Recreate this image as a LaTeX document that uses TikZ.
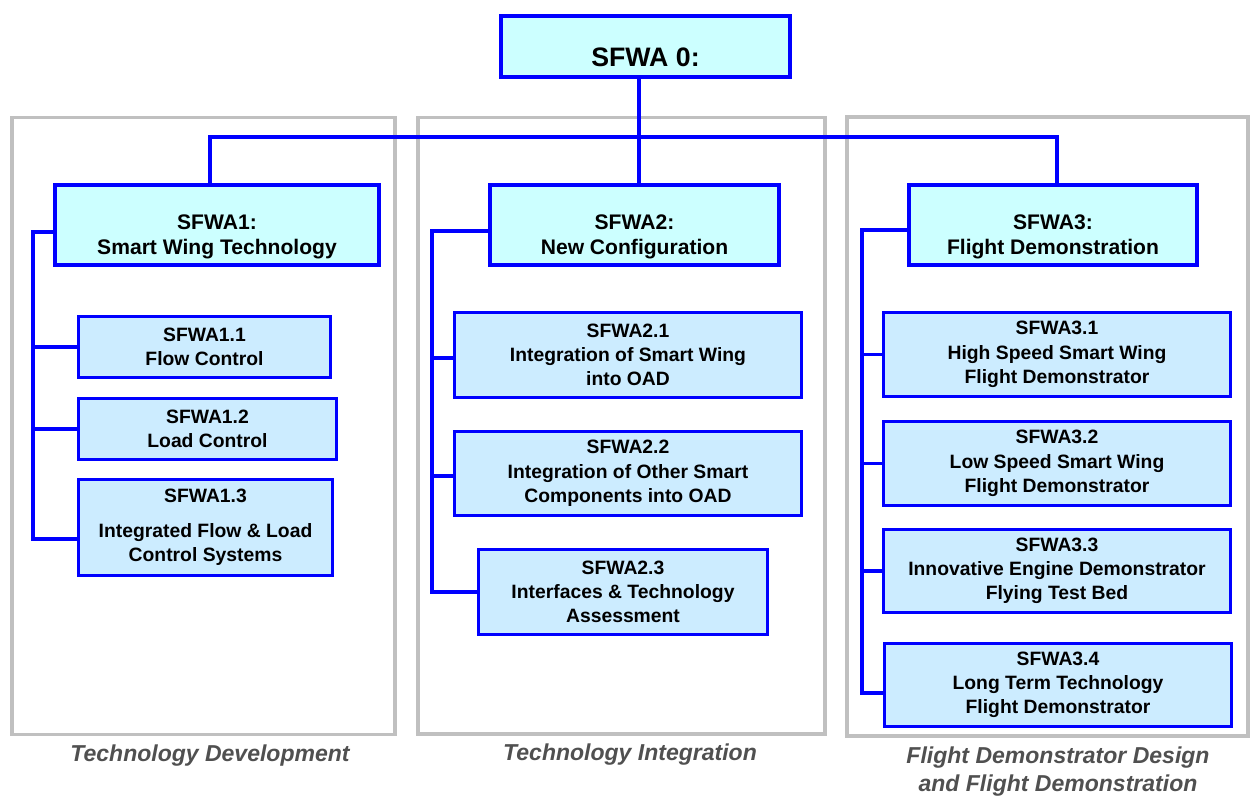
\documentclass[tikz,border=0pt]{standalone}
\usepackage{fontspec}
\setmainfont{Liberation Sans}

\definecolor{wbsblue}{HTML}{0000FF}
\definecolor{headfill}{HTML}{CCFFFF}
\definecolor{taskfill}{HTML}{CCECFF}
\definecolor{panelgray}{HTML}{C0C0C0}
\definecolor{captiongray}{HTML}{505050}

\begin{document}
\begin{tikzpicture}[x=0.02cm, y=-0.02cm,
    topbox/.style={draw=wbsblue, fill=headfill, line width=0.08cm, inner sep=0pt,
        font=\bfseries\fontsize{15.2}{18}\selectfont, text height=0.82cm, text depth=0pt},
    headbox/.style={draw=wbsblue, fill=headfill, line width=0.08cm, inner sep=0pt,
        align=center, font=\bfseries\fontsize{12}{14}\selectfont, minimum height=1.6cm},
    taskbox/.style={draw=wbsblue, fill=taskfill, line width=0.06cm, inner sep=0pt,
        align=center, font=\bfseries\fontsize{11}{13.8}\selectfont},
    wire/.style={wbsblue, line width=0.07cm},
    panel/.style={panelgray, line width=0.07cm},
    caption/.style={text=captiongray, align=center,
        font=\bfseries\itshape\fontsize{13.1}{15.9}\selectfont}]
    \useasboundingbox (0,0) rectangle (1251,797);

    % three grey work areas
    \draw[panel] (12,117.5) rectangle (395,734.5);
    \draw[panel] (418,117.5) rectangle (825,734);
    \draw[panel] (847,117) rectangle (1248,736);

    \node[caption, anchor=base] (cap1) at (210,761) {Technology Development};
    \node[caption, anchor=base] (cap2) at (630,760) {Technology Integration};
    \node[caption] (cap3) at (1058,772) {Flight Demonstrator Design\\and Flight Demonstration};

    % top level
    \node[topbox, minimum width=5.78cm, minimum height=1.22cm] (s0) at (645.5,46.5) {SFWA 0:};

    % work packages (empty first row pushes the text down a little)
    \node[headbox, minimum width=6.48cm] (s1) at (217,225) {\mbox{}\\[8pt]SFWA1:\\Smart Wing Technology};
    \node[headbox, minimum width=5.78cm] (s2) at (634.5,225) {\mbox{}\\[8pt]SFWA2:\\New Configuration};
    \node[headbox, minimum width=5.76cm] (s3) at (1053,225) {\mbox{}\\[8pt]SFWA3:\\Flight Demonstration};

    % tasks
    \node[taskbox, minimum width=5.04cm, minimum height=1.22cm] (s11) at (204.5,347) {SFWA1.1\\Flow Control};
    \node[taskbox, minimum width=5.16cm, minimum height=1.22cm] (s12) at (207.5,429) {SFWA1.2\\Load Control};
    \node[taskbox, minimum width=5.08cm, minimum height=1.92cm] (s13) at (205.5,527.5) {SFWA1.3\\[6pt]Integrated Flow \& Load\\Control Systems};

    \node[taskbox, minimum width=6.94cm, minimum height=1.70cm] (s21) at (628,355) {SFWA2.1\\Integration of Smart Wing\\into OAD};
    \node[taskbox, minimum width=6.94cm, minimum height=1.68cm] (s22) at (628,473.5) {SFWA2.2\\Integration of Other Smart\\Components into OAD};
    \node[taskbox, minimum width=5.78cm, minimum height=1.70cm] (s23) at (623,592) {SFWA2.3\\Interfaces \& Technology\\Assessment};

    \node[taskbox, minimum width=6.94cm, minimum height=1.68cm] (s31) at (1057,354.5) {SFWA3.1\\High Speed Smart Wing\\Flight Demonstrator};
    \node[taskbox, minimum width=6.94cm, minimum height=1.68cm] (s32) at (1057,463.5) {SFWA3.2\\Low Speed Smart Wing\\Flight Demonstrator};
    \node[taskbox, minimum width=6.94cm, minimum height=1.68cm] (s33) at (1057,571) {SFWA3.3\\Innovative Engine Demonstrator\\Flying Test Bed};
    \node[taskbox, minimum width=6.94cm, minimum height=1.68cm] (s34) at (1058,685) {SFWA3.4\\Long Term Technology\\Flight Demonstrator};

    % top tree
    \coordinate (hub) at (639,137);
    \coordinate (j1) at (210,137);
    \coordinate (j3) at (1057,137);
    \draw[wire] (s0.south -| hub) -- (s2.north -| hub);
    \draw[wire] (s1.north -| j1) -- (j1) -- (j3) -- (s3.north -| j3);

    % trunks down the left of each area
    \coordinate (t1) at (33,0);
    \coordinate (t2) at (432,0);
    \coordinate (t3) at (862,0);

    \draw[wire] ([yshift=-0.14cm]s1.west) -| ([yshift=-0.23cm]s13.west -| t1) -- ([yshift=-0.23cm]s13.west);
    \draw[wire] (s11.west -| t1) -- (s11.west);
    \draw[wire] (s12.west -| t1) -- (s12.west);

    \draw[wire] ([yshift=-0.12cm]s2.west) -| (s23.west -| t2) -- (s23.west);
    \draw[wire] ([yshift=-0.06cm]s21.west -| t2) -- ([yshift=-0.06cm]s21.west);
    \draw[wire] ([yshift=-0.05cm]s22.west -| t2) -- ([yshift=-0.05cm]s22.west);

    \draw[wire] ([yshift=-0.1cm]s3.west) -| ([yshift=-0.16cm]s34.west -| t3) -- ([yshift=-0.16cm]s34.west);
    \draw[wire] (s31.west -| t3) -- (s31.west);
    \draw[wire] (s32.west -| t3) -- (s32.west);
    \draw[wire] (s33.west -| t3) -- (s33.west);
\end{tikzpicture}
\end{document}
